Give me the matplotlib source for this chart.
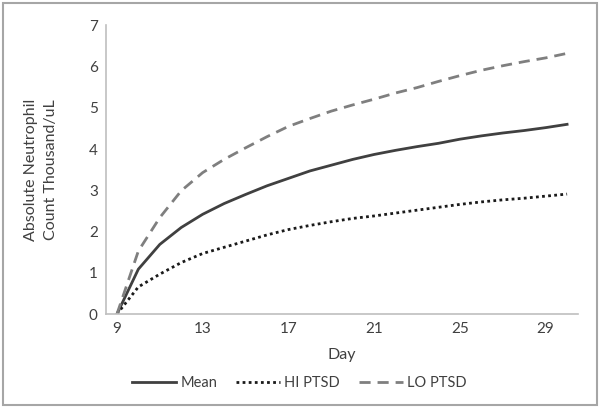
import matplotlib.pyplot as plt
from matplotlib.patches import Rectangle

# days and estimated counts (thousand/uL)
days = list(range(9, 31))
mean = [0, 1.09, 1.69, 2.10, 2.42, 2.68, 2.90, 3.11, 3.29, 3.47, 3.61,
        3.75, 3.87, 3.97, 4.06, 4.14, 4.24, 4.32, 4.39, 4.45, 4.52, 4.60]
hi_ptsd = [0, 0.66, 0.97, 1.25, 1.47, 1.62, 1.77, 1.92, 2.05, 2.15, 2.24,
           2.32, 2.38, 2.45, 2.52, 2.59, 2.66, 2.72, 2.77, 2.81, 2.86, 2.91]
lo_ptsd = [0, 1.53, 2.34, 2.99, 3.43, 3.75, 4.03, 4.30, 4.55, 4.74, 4.92,
           5.07, 5.21, 5.36, 5.49, 5.64, 5.78, 5.91, 6.02, 6.12, 6.21, 6.32]
xticks = [9, 13, 17, 21, 25, 29]

plt.rcParams['font.family'] = ['Lato', 'DejaVu Sans']
txt = '#404040'

fig = plt.figure(figsize=(6, 4.08), dpi=100)
ax = fig.add_axes([0.177, 0.230, 0.786, 0.708])

ax.plot(days, mean, color='#404040', lw=2, label='Mean')
ax.plot(days, hi_ptsd, color='#1a1a1a', lw=2, ls=(0, (1, 1.2)), label='HI PTSD')
ax.plot(days, lo_ptsd, color='#7f7f7f', lw=2, ls=(0, (4, 2.5)), label='LO PTSD')

ax.set_xlim(8.5, 30.5)
ax.set_ylim(0, 7)
ax.set_xticks(xticks)
ax.set_yticks(range(0, 8))
ax.tick_params(length=0, labelsize=11, colors=txt, pad=6)

for s in ['top', 'right']:
    ax.spines[s].set_visible(False)
for s in ['left', 'bottom']:
    ax.spines[s].set_color('#bfbfbf')
    ax.spines[s].set_linewidth(1.2)

ax.set_xlabel('Day', fontsize=11.5, color=txt, labelpad=8)
ax.set_ylabel('Absolute Neutrophil\nCount Thousand/uL', fontsize=11.5, color=txt,
              labelpad=22, linespacing=1.55)

ax.legend(loc='upper center', bbox_to_anchor=(0.41, -0.17), ncol=3, frameon=False,
          fontsize=10.5, handlelength=3.0, columnspacing=1.3, handletextpad=0.3,
          labelcolor=txt)

# chart border
fig.patches.append(Rectangle((0.005, 0.008), 0.99, 0.985, transform=fig.transFigure,
                             fill=False, edgecolor='#a6a6a6', lw=1.5))

fig.savefig('out.png', dpi=100)
